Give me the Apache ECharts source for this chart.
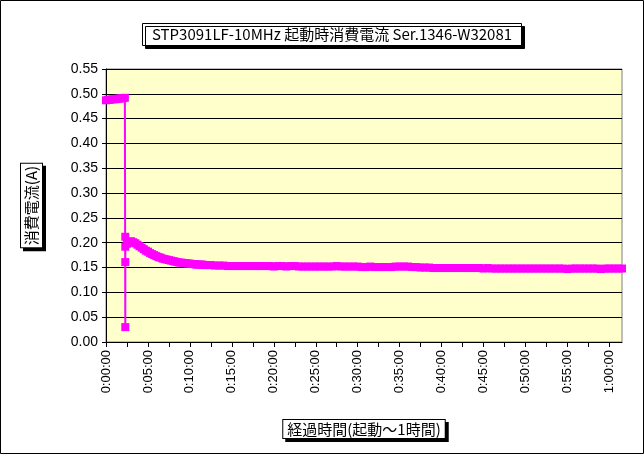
<!DOCTYPE html>
<html><head><meta charset="utf-8">
<script src="https://cdn.jsdelivr.net/npm/echarts@6/dist/echarts.min.js"></script>
<style>html,body{margin:0;padding:0;background:#fff}#c{width:644px;height:454px}</style>
</head><body><div id="c"></div>
<script>
const titleText = 'STP3091LF-10MHz 起動時消費電流 Ser.1346-W32081';
const xTitle = '経過時間(起動～1時間)';
const yTitle = '消費電流(A)';
// elapsed minutes and current (A)
const startMinutes = [0,0.25,0.5,0.75,1,1.25,1.5,1.75,2,2.25];
const startCurrent = [0.487,0.488,0.488,0.489,0.489,0.490,0.490,0.491,0.491,0.492];
const dropMinutes = [2.3,2.3,2.3,2.3];
const dropCurrent = [0.030,0.161,0.212,0.192];
const decayMinutes = [2.5,2.75,3,3.25,3.5,3.75,4,4.25,4.5,4.75,5,5.25,5.5,5.75,6,6.25,6.5,6.75,7,7.25,7.5,7.75,8,8.25,8.5,8.75,9,9.25,9.5,9.75,10,10.25,10.5,10.75,11,11.25,11.5,11.75,12];
const decayCurrent = [0.198,0.202,0.203,0.201,0.199,0.196,0.193,0.190,0.187,0.184,0.182,0.179,0.177,0.175,0.173,0.171,0.170,0.168,0.167,0.166,0.165,0.164,0.163,0.162,0.161,0.160,0.160,0.159,0.159,0.158,0.158,0.157,0.157,0.156,0.156,0.156,0.156,0.155,0.155];
const runMinutes = [12.5,13,13.5,14,14.5,15,15.5,16,16.5,17,17.5,18,18.5,19,19.5,20,20.5,21,21.5,22,22.5,23,23.5,24,24.5,25,25.5,26,26.5,27,27.5,28,28.5,29,29.5,30,30.5,31,31.5,32,32.5,33,33.5,34,34.5,35,35.5,36,36.5,37,37.5,38,38.5,39,39.5,40,40.5,41,41.5,42,42.5,43,43.5,44,44.5,45,45.5,46,46.5,47,47.5,48,48.5,49,49.5,50,50.5,51,51.5,52,52.5,53,53.5,54,54.5,55,55.5,56,56.5,57,57.5,58,58.5,59,59.5,60,60.5,61,61.5];
const runCurrent = [
0.155,0.154,0.154,0.154,0.153,0.153,0.153,0.153,0.153,0.153,
0.153,0.153,0.153,0.153,0.153,0.152,0.153,0.153,0.152,0.153,
0.153,0.152,0.152,0.152,0.152,0.152,0.152,0.152,0.152,0.152,
0.153,0.152,0.152,0.152,0.152,0.152,0.151,0.151,0.152,0.151,
0.151,0.151,0.151,0.151,0.152,0.152,0.152,0.152,0.151,0.151,
0.150,0.150,0.150,0.149,0.149,0.149,0.149,0.149,0.149,0.149,
0.149,0.149,0.149,0.149,0.149,0.148,0.149,0.148,0.148,0.148,
0.148,0.148,0.148,0.148,0.148,0.148,0.148,0.148,0.148,0.148,
0.148,0.148,0.148,0.148,0.148,0.147,0.148,0.148,0.148,0.148,
0.148,0.148,0.148,0.147,0.148,0.148,0.148,0.148,0.148];
const minutes = startMinutes.concat(dropMinutes, decayMinutes, runMinutes);
const current = startCurrent.concat(dropCurrent, decayCurrent, runCurrent);
const data = minutes.map((m,i)=>[m,current[i]]);

function fmtTime(v){
  if (Math.abs(v/5 - Math.round(v/5)) > 1e-6) return '';
  const h = Math.floor(v/60), m = Math.round(v - h*60);
  return h + ':' + String(m).padStart(2,'0') + ':00';
}
const chart = echarts.init(document.getElementById('c'), null, {renderer:'canvas'});
const font = '"Liberation Sans", Arial, sans-serif';
const cjk = '"Noto Sans CJK JP", sans-serif';
chart.setOption({
  animation:false,
  backgroundColor:'#fff',
  title:{
    text:titleText, left:142, top:23,
    textStyle:{fontFamily:cjk, fontSize:15, fontWeight:'normal', color:'#000'},
    backgroundColor:'#fff', borderColor:'#000', borderWidth:1,
    padding:[4,10,4,10],
    shadowColor:'#000', shadowOffsetX:3, shadowOffsetY:3, shadowBlur:0
  },
  grid:{left:106, top:69, right:22, bottom:112, show:true, backgroundColor:'#FFFFCC', borderColor:'#808080', borderWidth:1},
  xAxis:{
    type:'value', min:0, max:61.5, interval:2.5,
    name:xTitle, nameLocation:'middle', nameGap:78,
    nameTextStyle:{fontFamily:cjk, fontSize:15, color:'#000', backgroundColor:'#fff', borderColor:'#000', borderWidth:1, padding:[2,4,1,4], shadowColor:'#000', shadowOffsetX:3, shadowOffsetY:3},
    axisLine:{onZero:false, lineStyle:{color:'#000', width:1}},
    axisTick:{show:true, length:5, lineStyle:{color:'#000'}},
    axisLabel:{rotate:90, fontFamily:font, fontSize:13, color:'#000', formatter:fmtTime, showMaxLabel:false, margin:8},
    splitLine:{show:false}
  },
  yAxis:{
    type:'value', min:0, max:0.55, interval:0.05,
    name:yTitle, nameLocation:'middle', nameGap:64, nameRotate:90,
    nameTextStyle:{fontFamily:cjk, fontSize:15, color:'#000', backgroundColor:'#fff', borderColor:'#000', borderWidth:1, padding:[3,2,3,2], shadowColor:'#000', shadowOffsetX:3, shadowOffsetY:3},
    axisLine:{show:true, lineStyle:{color:'#000'}},
    axisTick:{show:true, length:4, lineStyle:{color:'#000'}},
    axisLabel:{fontFamily:font, fontSize:14, color:'#000', formatter:v=>v.toFixed(2), margin:8},
    splitLine:{show:true, lineStyle:{color:'#000', width:1}}
  },
  graphic:[{type:'rect', shape:{x:0.5,y:0.5,width:643,height:453}, style:{fill:'none', stroke:'#000', lineWidth:1}, z:100}],
  series:[{
    type:'line', data:data, color:'#FF00FF',
    lineStyle:{color:'#FF00FF', width:2},
    symbol:'rect', symbolSize:8, showAllSymbol:true,
    itemStyle:{color:'#FF00FF'}
  }]
});
</script></body></html>
